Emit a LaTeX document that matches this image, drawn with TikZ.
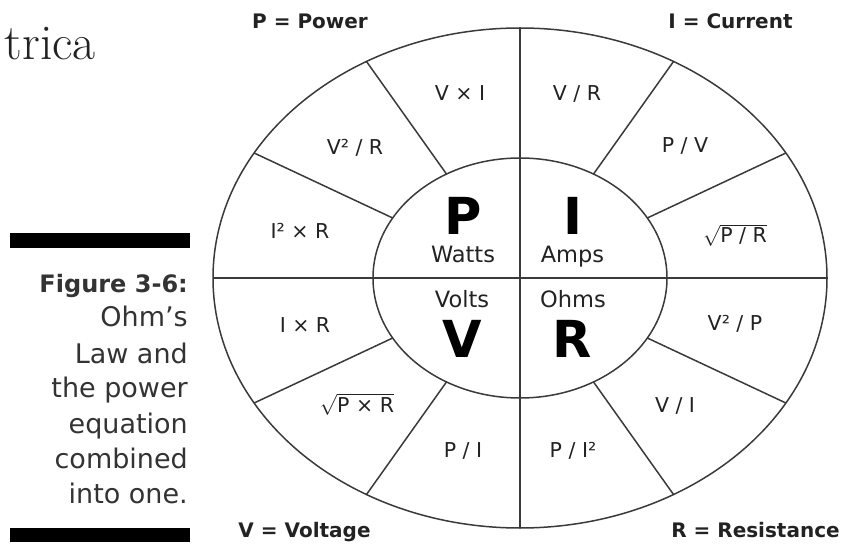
\documentclass[tikz,border=0pt]{standalone}
\usepackage{fontspec}
\newfontfamily\dv{DejaVu Sans}
\usetikzlibrary{calc}
\definecolor{ink}{HTML}{222222}
\definecolor{capc}{HTML}{333333}
\definecolor{linec}{HTML}{3A3A3A}
\begin{document}
\begin{tikzpicture}[x=1pt,y=-1pt,
  ln/.style={draw=linec, line width=1.5pt},
  frm/.style={font=\dv\fontsize{20.5}{24}\selectfont, text=ink, anchor=base, inner sep=0pt},
  hdr/.style={font=\dv\bfseries\fontsize{20}{24}\selectfont, text=ink, anchor=base, inner sep=0pt},
  big/.style={font=\dv\bfseries\fontsize{51}{58}\selectfont, text=black, anchor=base, inner sep=0pt},
  unitlbl/.style={font=\dv\fontsize{22.5}{27}\selectfont, text=ink, anchor=base, inner sep=0pt},
  capline/.style={font=\dv\fontsize{27}{32}\selectfont, text=capc, anchor=base east, inner sep=0pt},
  captitle/.style={font=\dv\bfseries\fontsize{24}{28}\selectfont, text=capc, anchor=base east, inner sep=0pt},
  bar/.style={fill=black}
]
\useasboundingbox (0,0) rectangle (841,545);
% wheel
\coordinate (O) at (520,278);
\draw[ln] (O) ellipse [x radius=307pt, y radius=250pt];
\draw[ln] (O) ellipse [x radius=147pt, y radius=120pt];
\coordinate (top) at (520,28);
\coordinate (bot) at (520,528);
\coordinate (lft) at (213,278);
\coordinate (rgt) at (827,278);
\draw[ln] (top) -- (bot);
\draw[ln] (lft) -- (rgt);
\foreach \t in {30,60,120,150,210,240,300,330}{
  \coordinate (in\t) at ({520+147*cos(\t)},{278-120*sin(\t)});
  \coordinate (out\t) at ({520+307*cos(\t)},{278-250*sin(\t)});
  \draw[ln] (in\t) -- (out\t);
}
% centre
\node[big] (P) at (463.5,235) {P};
\node[big] (I) at (573,235) {I};
\node[big] (V) at (462.5,358) {V};
\node[big] (R) at (572.5,358) {R};
\node[unitlbl] (watts) at (463,263) {Watts};
\node[unitlbl] (amps) at (572.5,263) {Amps};
\node[unitlbl] (volts) at (462,308) {Volts};
\node[unitlbl] (ohms) at (573,308) {Ohms};
% formulas
\node[frm] (vxi) at (460,101) {V × I};
\node[frm] (v2r) at (355,155) {V² / R};
\node[frm] (i2r) at (300,239) {I² × R};
\node[frm] (vr) at (577,101) {V / R};
\node[frm] (pv) at (685,153) {P / V};
\node[frm] (spr) at (735,243) {$\sqrt{\hbox{P / R}}$};
\node[frm] (ir) at (305,333) {I × R};
\node[frm] (spxr) at (357,413) {$\sqrt{\hbox{P × R}}$};
\node[frm] (pi) at (463,457) {P / I};
\node[frm] (v2p) at (735,331) {V² / P};
\node[frm] (vi) at (675,413) {V / I};
\node[frm] (pi2) at (573,457) {P / I²};
% headers
\node[hdr] (hp) at (310,29) {P = Power};
\node[hdr] (hi) at (730.5,29) {I = Current};
\node[hdr] (hv) at (304.5,537) {V = Voltage};
\node[hdr] (hr) at (755.5,537) {R = Resistance};
% caption
\node[font=\fontsize{50}{56}\selectfont, text=ink, anchor=base east, inner sep=0pt] (trica) at (96,60) {trica};
\fill[bar] (10,233) rectangle (190,248);
\fill[bar] (10,528) rectangle (190,542);
\node[captitle] (c0) at (188,293) {Figure 3-6:};
\node[capline] (c1) at (188,327) {Ohm’s};
\node[capline] (c2) at (188,363) {Law and};
\node[capline] (c3) at (188,398) {the power};
\node[capline] (c4) at (188,433) {equation};
\node[capline] (c5) at (188,468) {combined};
\node[capline] (c6) at (188,503) {into one.};
\end{tikzpicture}
\end{document}
